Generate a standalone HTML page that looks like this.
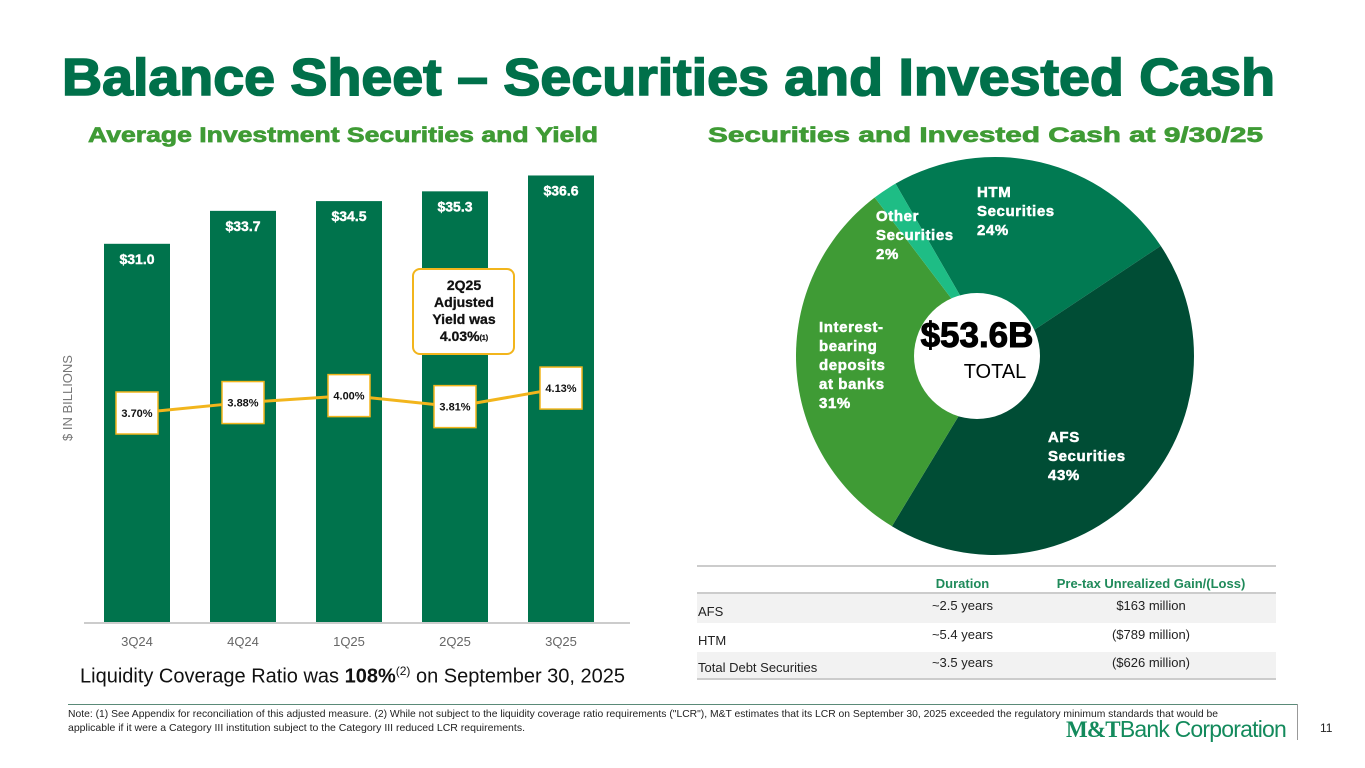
<!DOCTYPE html>
<html><head><meta charset="utf-8">
<style>
body{margin:0;width:1365px;height:768px;background:#fff;font-family:"Liberation Sans",sans-serif;position:relative;overflow:hidden}
.abs{position:absolute}
table{border-collapse:collapse;font-size:13px;color:#222}
</style></head><body>
<svg class="abs" style="left:0;top:0" width="1365" height="160">
<text x="62" y="95" font-size="52" font-weight="bold" fill="#00704a" stroke="#00704a" stroke-width="1.6" textLength="1213" lengthAdjust="spacingAndGlyphs">Balance Sheet – Securities and Invested Cash</text>
<text x="88" y="142" font-size="21" font-weight="bold" fill="#3f9b35" stroke="#3f9b35" stroke-width="0.7" textLength="510" lengthAdjust="spacingAndGlyphs">Average Investment Securities and Yield</text>
<text x="708" y="142" font-size="21" font-weight="bold" fill="#3f9b35" stroke="#3f9b35" stroke-width="0.7" textLength="555" lengthAdjust="spacingAndGlyphs">Securities and Invested Cash at 9/30/25</text>
</svg>

<svg class="abs" style="left:0;top:0" width="1365" height="768" id="chart"></svg>

<div class="abs" style="left:80px;top:664px;font-size:20px;color:#111">Liquidity Coverage Ratio was <b>108%</b><sup style="font-size:12px">(2)</sup> on September 30, 2025</div>

<table class="abs" style="left:697px;top:565px;width:579px;border-top:2px solid #ccc;border-bottom:2px solid #ccc">
<tr style="height:27px;border-bottom:2px solid #ccc;color:#1f8a5a;font-weight:bold"><td style="width:200px"></td><td style="text-align:center;width:125px;padding-top:8px">Duration</td><td style="text-align:center;padding-top:8px">Pre-tax Unrealized Gain/(Loss)</td></tr>
<tr style="height:30px;background:#f2f2f2"><td style="padding-top:6px">AFS</td><td style="text-align:center;vertical-align:top;padding-top:4px">~2.5 years</td><td style="text-align:center;vertical-align:top;padding-top:4px">$163 million</td></tr>
<tr style="height:29px"><td style="padding-top:6px">HTM</td><td style="text-align:center;vertical-align:top;padding-top:4px">~5.4 years</td><td style="text-align:center;vertical-align:top;padding-top:4px">($789 million)</td></tr>
<tr style="height:27px;background:#f2f2f2"><td style="padding-top:6px">Total Debt Securities</td><td style="text-align:center;vertical-align:top;padding-top:3px">~3.5 years</td><td style="text-align:center;vertical-align:top;padding-top:3px">($626 million)</td></tr>
</table>

<div class="abs" style="left:68px;top:704px;width:1229px;border-top:1.5px solid #5a8a78"></div>
<div class="abs" style="left:1297px;top:704px;height:36px;border-left:1px solid #999"></div>
<div class="abs" style="left:68px;top:707px;width:1225px;font-size:10.5px;line-height:14px;color:#222;white-space:nowrap"><span style="display:inline-block;transform:scaleX(0.985);transform-origin:left">Note: (1) See Appendix for reconciliation of this adjusted measure. (2) While not subject to the liquidity coverage ratio requirements ("LCR"), M&amp;T estimates that its LCR on September 30, 2025 exceeded the regulatory minimum standards that would be</span><br>applicable if it were a Category III institution subject to the Category III reduced LCR requirements.</div>
<div class="abs" style="left:1066px;top:716px;font-size:23px;color:#138a5c;white-space:nowrap;letter-spacing:-0.8px"><b style="font-family:'Liberation Serif',serif">M&amp;T</b>Bank Corporation</div>
<div class="abs" style="left:1320px;top:721px;font-size:12px;color:#222">11</div>

<script>
const categories=["3Q24","4Q24","1Q25","2Q25","3Q25"];
const balances=[31.0,33.7,34.5,35.3,36.6];
const yields=[3.70,3.88,4.00,3.81,4.13];
const sliceNames=["HTM","AFS","Interest-bearing","Other"];
const sliceValues=[24,43,31,2];
const sliceLabels=[["HTM","Securities","24%"],["AFS","Securities","43%"],["Interest-","bearing","deposits","at banks","31%"],["Other","Securities","2%"]];

const NS="http://www.w3.org/2000/svg";
const svg=document.getElementById('chart');
function mk(t,a,p){const e=document.createElementNS(NS,t);for(const k in a)e.setAttribute(k,a[k]);(p||svg).appendChild(e);return e;}
const base=622,x0=137,step=106;
const xPos=i=>x0+i*step;
const yBar=v=>base-v*12.2;
const yLine=v=>413-(v-3.70)*58;
categories.forEach((c,i)=>{
  const b=mk('rect',{x:xPos(i)-33,y:yBar(balances[i]),width:66,height:base-yBar(balances[i]),fill:'#00734c'});
  
  
  const t=mk('text',{x:xPos(i),y:yBar(balances[i])+20,'text-anchor':'middle','font-size':'14','font-weight':'bold',fill:'#fff',stroke:'#fff','stroke-width':'0.4'});
  t.textContent='$'+balances[i].toFixed(1);
  
  
  const xl=mk('text',{x:xPos(i),y:646,'text-anchor':'middle','font-size':'13',fill:'#666'});
  xl.textContent=c;
  
  
});
const ax=mk('line',{x1:84,y1:base+1,x2:630,y2:base+1,stroke:'#bbb','stroke-width':1.5});


const yt=mk('text',{x:72,y:398,transform:'rotate(-90 72 398)','text-anchor':'middle','font-size':'13',fill:'#777'});
yt.textContent='$ IN BILLIONS';


const pts=yields.map((v,i)=>xPos(i)+','+yLine(v)).join(' ');
const pl=mk('polyline',{points:pts,fill:'none',stroke:'#f2b51c','stroke-width':3});


yields.forEach((v,i)=>{
  const y=yLine(v);
  const r=mk('rect',{x:xPos(i)-21,y:y-21,width:42,height:42,fill:'#fff',stroke:'#f2b51c','stroke-width':1.5});
  
  
  const t=mk('text',{x:xPos(i),y:y+4,'text-anchor':'middle','font-size':'11','font-weight':'bold',fill:'#111'});
  t.textContent=v.toFixed(2)+'%';
  
  
});
const cb=mk('rect',{x:413,y:269,width:101,height:85,rx:7,fill:'#fff',stroke:'#f2b51c','stroke-width':2});


["2Q25","Adjusted","Yield was"].forEach((s,k)=>{const t=mk('text',{x:464,y:290+k*17,'text-anchor':'middle','font-size':'14','font-weight':'bold',fill:'#111',stroke:'#111','stroke-width':'0.3'});t.textContent=s;});
const ct=mk('text',{x:464,y:341,'text-anchor':'middle','font-size':'14','font-weight':'bold',fill:'#111',stroke:'#111','stroke-width':'0.3'});
ct.innerHTML='4.03%<tspan font-size="7" dy="-1">(1)</tspan>';

const cx=995,cy=356,R=199,start=-30;
const colors=['#017a52','#004d35','#3f9b35','#1ebd85'];
const tot=sliceValues.reduce((a,b)=>a+b,0);
function P(a,rad){const t=(a-90)*Math.PI/180;return [cx+rad*Math.cos(t),cy+rad*Math.sin(t)];}
let a=start;
const labelPos=[[977,197],[1048,442],[819,332],[876,221]];
sliceValues.forEach((v,i)=>{
  const a2=a+v/tot*360;
  const p1=P(a,R),p2=P(a2,R);
  const large=(a2-a)>180?1:0;
  const s=mk('path',{d:`M${cx},${cy} L${p1[0]},${p1[1]} A${R},${R} 0 ${large} 1 ${p2[0]},${p2[1]} Z`,fill:colors[i]});
  
  
  a=a2;
});
sliceValues.forEach((v,i)=>{
  sliceLabels[i].forEach((ln,k)=>{const t=mk('text',{x:labelPos[i][0],y:labelPos[i][1]+k*19,'font-size':'15','font-weight':'bold',fill:'#fff',stroke:'#fff','stroke-width':'0.5','letter-spacing':'0.6'});t.textContent=ln;
    
    });
});
const hole=mk('circle',{cx:cx-18,cy:cy,r:63,fill:'#fff'});


const tv=mk('text',{x:977,y:347,'text-anchor':'middle','font-size':'35','font-weight':'bold',fill:'#000',stroke:'#000','stroke-width':'1'});
tv.textContent='$53.6B';


const tl=mk('text',{x:995,y:378,'text-anchor':'middle','font-size':'20',fill:'#000'});
tl.textContent='TOTAL';


</script>
</body></html>
